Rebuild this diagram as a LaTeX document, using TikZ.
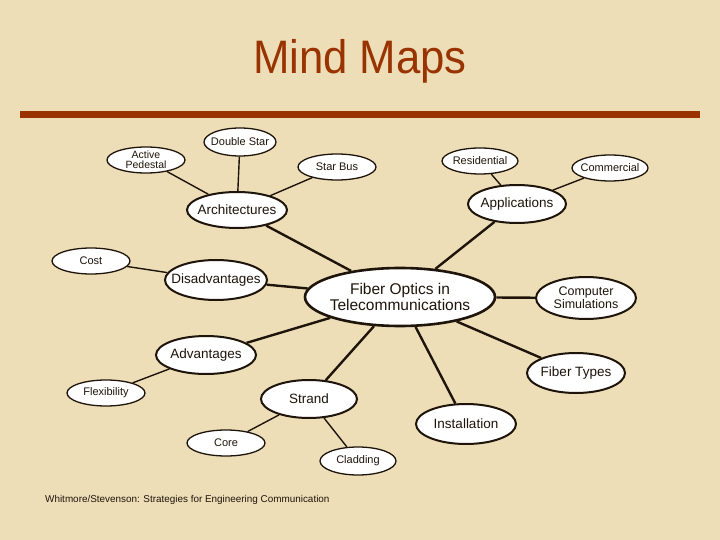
\documentclass[tikz,border=0pt]{standalone}
\usepackage{fontspec}
\setmainfont{Liberation Sans}
\usetikzlibrary{shapes.geometric}
\definecolor{paper}{RGB}{238,222,184}
\definecolor{rust}{RGB}{153,51,0}
\definecolor{ink}{RGB}{30,20,10}
\begin{document}
\begin{tikzpicture}[x=1pt,y=-1pt,
  base/.style={ellipse,draw=ink,fill=white,inner sep=0pt},
  txt/.style={align=center,text=ink,inner sep=0pt},
  leaf/.style={base,line width=1.3pt,label={[txt,font=\fontsize{11}{11}\selectfont]center:#1}},
  leafs/.style={base,line width=1.3pt,label={[txt,font=\fontsize{10.5}{10}\selectfont]center:#1}},
  mid/.style={base,line width=2pt,label={[txt,font=\fontsize{13.5}{14}\selectfont]center:#1}},
  mids/.style={base,line width=2pt,label={[txt,font=\fontsize{12.5}{13}\selectfont]center:#1}},
  hub/.style={base,line width=2.6pt,label={[txt,font=\fontsize{15.5}{16}\selectfont]center:#1}},
  thick link/.style={draw=ink,line width=2.4pt},
  thin link/.style={draw=ink,line width=1.4pt}]
\fill[paper] (0,0) rectangle (720,540);
\useasboundingbox (0,0) rectangle (720,540);
\node[text=rust,inner sep=0pt,anchor=base,xscale=0.93,font=\fontsize{47}{47}\selectfont] (title) at (360,74) {Mind Maps};
\fill[rust] (20,111.5) rectangle (700,118.5);
% nodes
\node[hub={Fiber Optics in\\Telecommunications},minimum width=190,minimum height=58] (fo) at (400,297) {};
\node[mid={Architectures},minimum width=100,minimum height=36] (arch) at (237,210) {};
\node[mid={Applications},minimum width=98,minimum height=38] (app) at (517,204) {};
\node[mid={Disadvantages},minimum width=102,minimum height=40] (dis) at (216,280) {};
\node[mids={Computer\\Simulations},minimum width=100,minimum height=42] (sim) at (586,298) {};
\node[mid={Advantages},minimum width=100,minimum height=38] (adv) at (206,355) {};
\node[mid={Fiber Types},minimum width=98,minimum height=40] (ft) at (576,373) {};
\node[mid={Strand},minimum width=96,minimum height=38] (str) at (309,399) {};
\node[mid={Installation},minimum width=100,minimum height=40] (inst) at (466,424) {};
\node[leaf={Double Star},minimum width=72,minimum height=28] (ds) at (240,142) {};
\node[leafs={Active\\Pedestal},minimum width=78,minimum height=26] (ap) at (146,160) {};
\node[leaf={Star Bus},minimum width=78,minimum height=26] (sb) at (337,167) {};
\node[leaf={Residential},minimum width=76,minimum height=26] (res) at (480,161) {};
\node[leaf={Commercial},minimum width=76,minimum height=26] (com) at (610,168) {};
\node[leaf={Cost},minimum width=78,minimum height=26] (cost) at (91,261) {};
\node[leaf={Flexibility},minimum width=78,minimum height=26] (flex) at (106,393) {};
\node[leaf={Core},minimum width=78,minimum height=26] (core) at (226,443) {};
\node[leaf={Cladding},minimum width=76,minimum height=28] (clad) at (358,461) {};
% connectors
\path[thick link] (fo) -- (arch) (fo) -- (app) (fo) -- (dis) (fo) -- (sim)
  (fo) -- (adv) (fo) -- (ft) (fo) -- (str) (fo) -- (inst);
\path[thin link] (arch) -- (ap) (arch) -- (ds) (arch) -- (sb)
  (app) -- (res) (app) -- (com) (dis) -- (cost) (adv) -- (flex)
  (str) -- (core) (str) -- (clad);
\node[anchor=west,inner sep=0pt,text=ink,font=\fontsize{9.9}{10}\selectfont] (foot) at (45,500) {Whitmore/Stevenson: Strategies for Engineering Communication};
\end{tikzpicture}
\end{document}
